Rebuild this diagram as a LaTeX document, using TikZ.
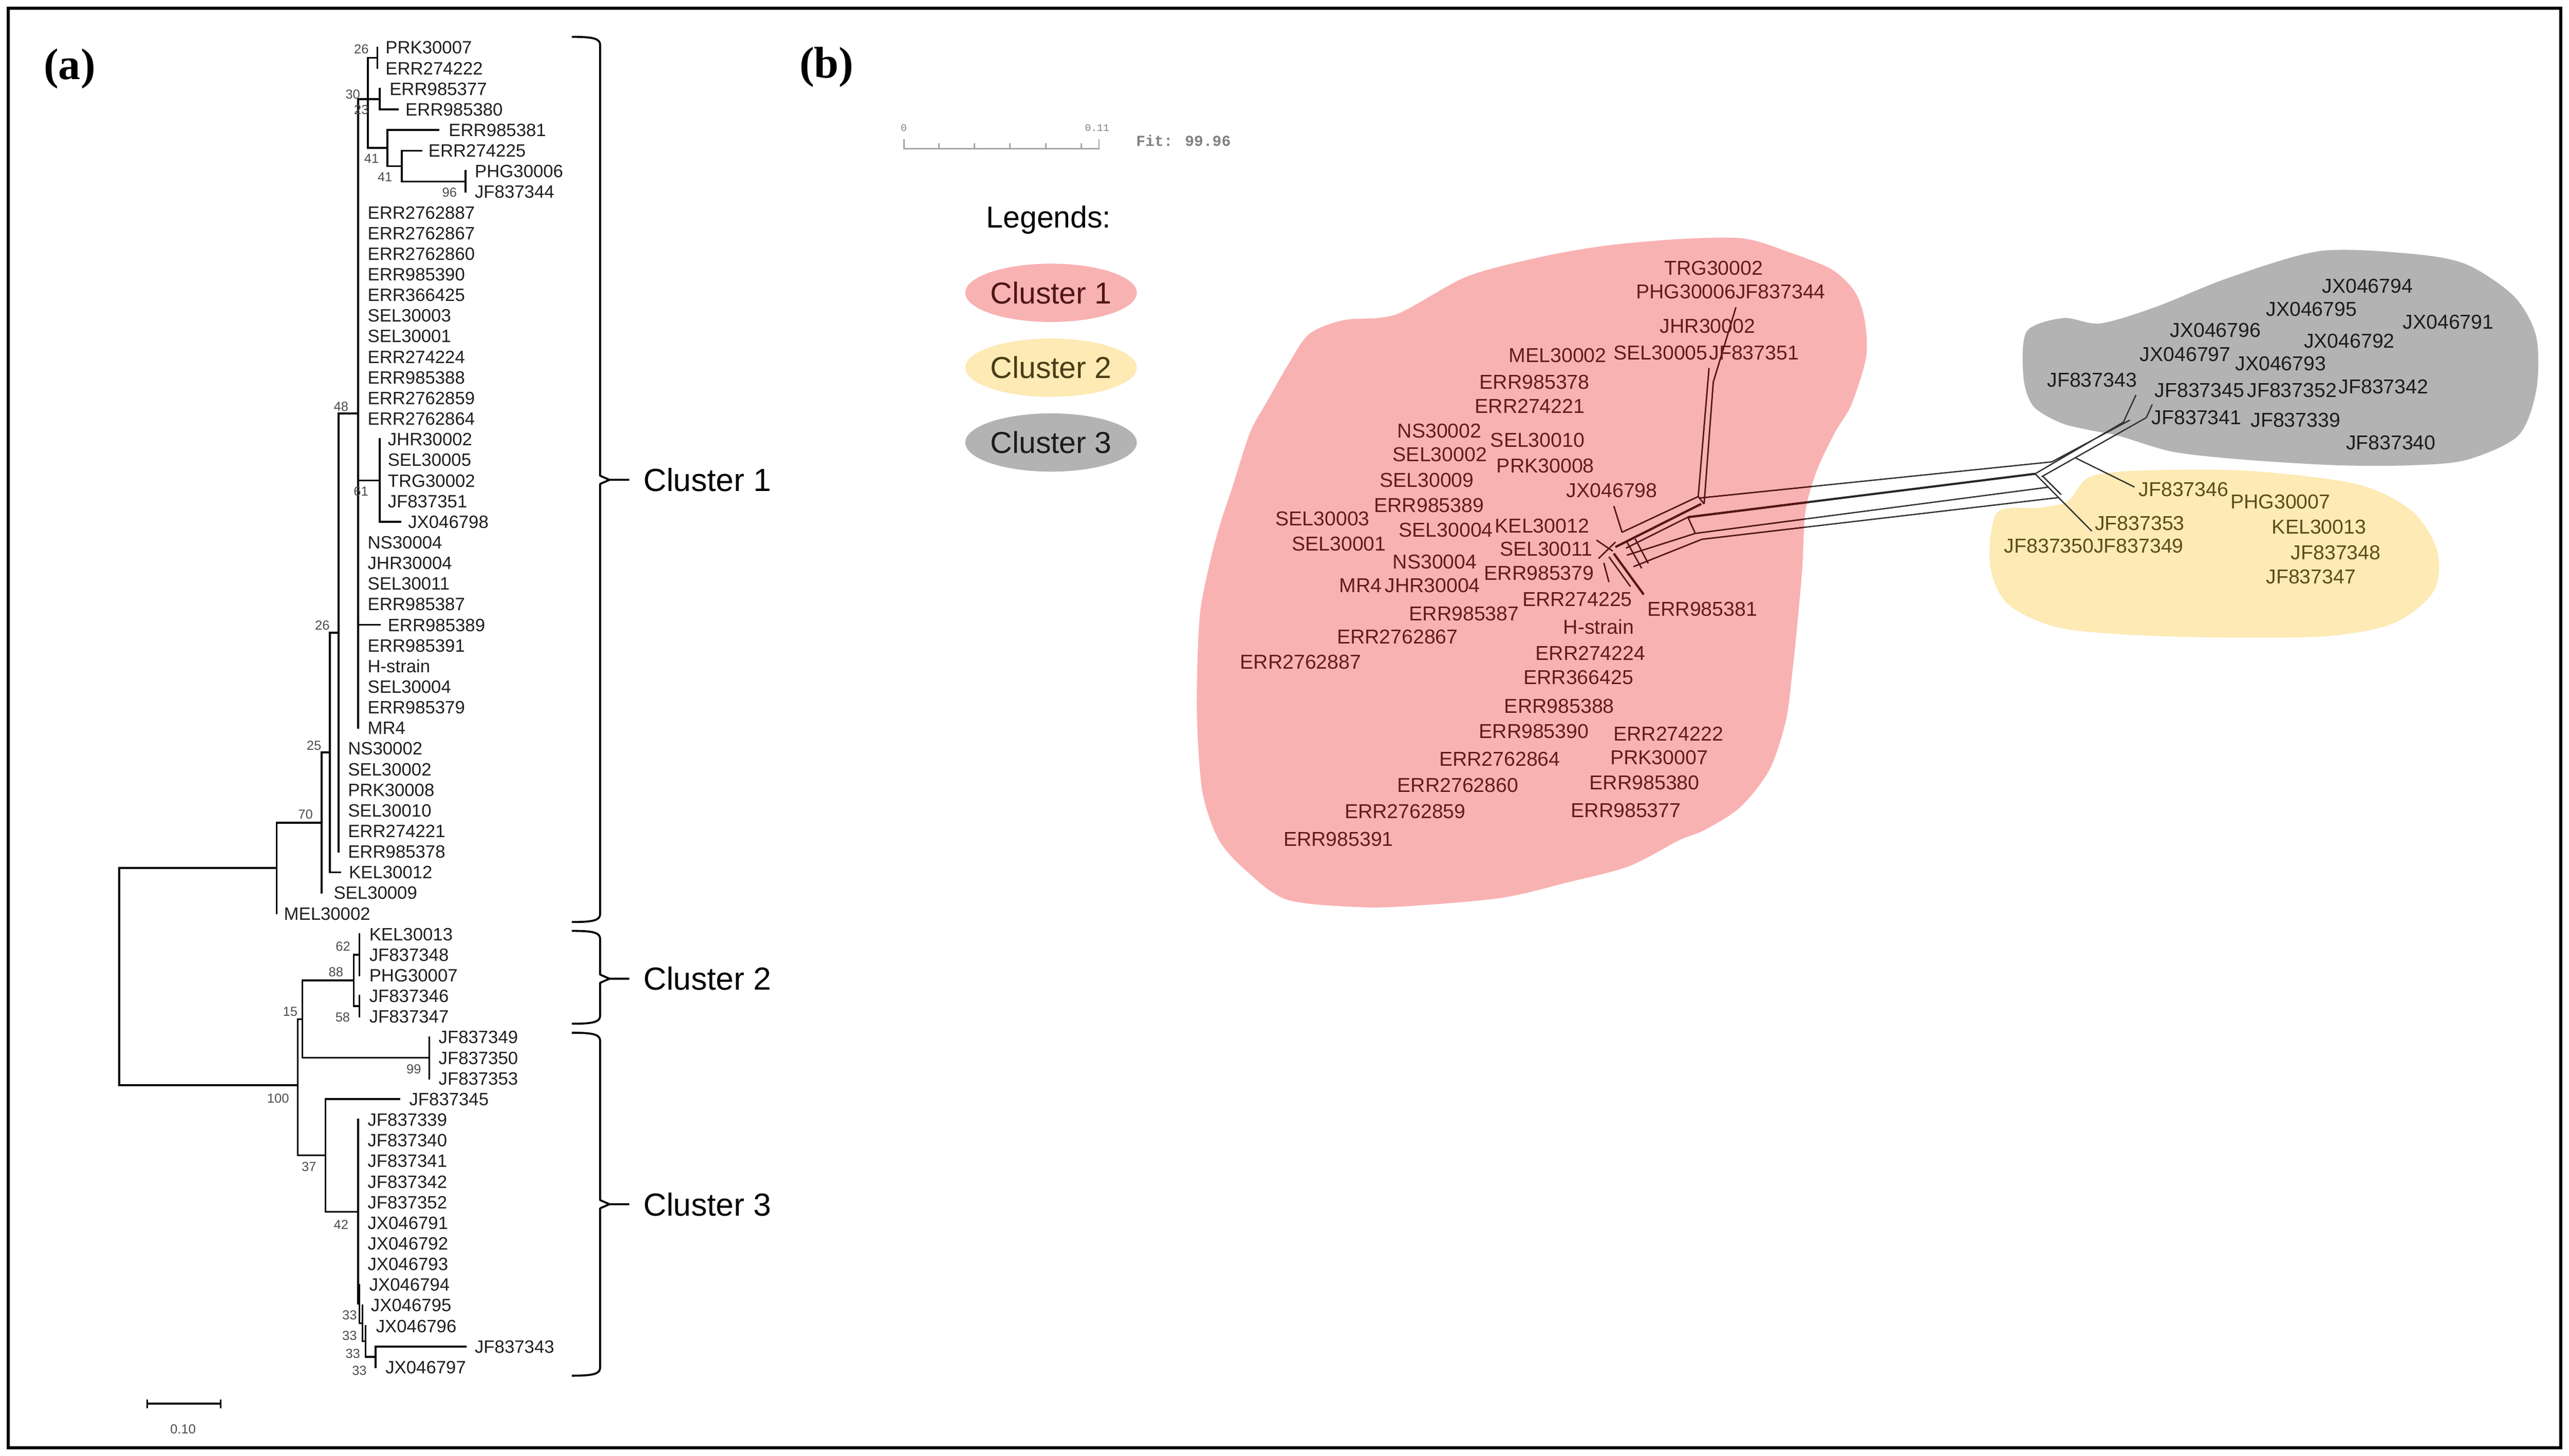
\documentclass[tikz,border=0pt]{standalone}
\usepackage{fontspec}
\setmainfont{Liberation Sans}
\newfontfamily\panelfont{Liberation Serif}
\newfontfamily\fitfont{Liberation Mono}
\usetikzlibrary{shapes.geometric}

\definecolor{clonered}{RGB}{249,178,178}
\definecolor{cloneyel}{RGB}{253,234,180}
\definecolor{clonegry}{RGB}{179,179,179}
\definecolor{txtred}{RGB}{98,28,28}
\definecolor{txtyel}{RGB}{92,76,28}
\definecolor{txtgry}{RGB}{28,28,28}
\definecolor{netred}{RGB}{88,22,22}

\newcommand{\redblob}{plot[smooth cycle, tension=0.5] coordinates {(731,400) (733,370) (740,337) (746,316) (752,298) (763,264) (774,244) (786,223) (799,204) (820,195.5) (852,192) (895,169) (940,157) (980,150) (1025,146) (1064,145.6) (1092,154) (1118,164.5) (1132,178) (1138,195) (1139,218) (1130,247) (1120,264) (1109,287) (1102,312) (1100,347) (1097,381) (1094,410) (1090,440) (1080,470) (1062,493) (1040,507) (1025,513) (994,529) (956,539) (918,548) (871,552.5) (833,554) (786,549.5) (761,532) (744,513) (734,484) (730.6,440)}}
\newcommand{\grayblob}{plot[smooth cycle, tension=0.5] coordinates {(1237,202.4) (1259.4,194.2) (1281.7,197.5) (1315.3,187.6) (1360.1,169.7) (1416,153.3) (1472,155) (1505.5,161.5) (1534.6,181.1) (1548,205.6) (1548,238.3) (1536.9,266.1) (1505.5,280.8) (1472,284.1) (1427.2,284.1) (1371.3,280.8) (1326.5,275.9) (1293.8,266.3) (1275.8,262.7) (1257.8,258.2) (1241,248) (1235,230.2)}}
\newcommand{\yellowblob}{plot[smooth cycle, tension=0.5] coordinates {(1274.9,291.5) (1304,287.4) (1371,287.4) (1438,295.5) (1472,311.9) (1487.6,336.4) (1485.4,361) (1460.8,380.6) (1416,388.7) (1326.5,388.7) (1259.4,383.8) (1225.8,369.1) (1214.6,345) (1219,313) (1245,310) (1262,306)}}
\newcommand{\netthin}{(985,309) -- (990,325)
 (974.4,329.8) -- (984.3,336.5) (975.7,341) -- (986,331)
 (978.9,343.7) -- (982,355.4) (982,340) -- (995.1,358.1)
 (990,325) -- (1036.5,303.2) (992.4,334.7) -- (1030.2,315.8)
 (993,339) -- (1034.7,325.7) (997,346) -- (1038.7,329.3)
 (993,331) -- (1002,347) (998,329) -- (1006,344)
 (1030.2,315.8) -- (1034.7,325.7) (1036.5,303.2) -- (1040.1,307.7)
 (1036.5,303.2) -- (1043.1,224.7) (1040.1,307.7) -- (1045.7,233.3) -- (1059.5,187.7)
 (1037.4,304.1) -- (1252.4,282) (1034.7,325.7) -- (1250,297.5) (1038.7,329.3) -- (1256.6,303.8)
 (1242.1,289.3) -- (1276.7,324.3) (1246.5,290.5) -- (1258,302)
 (1242.1,289.3) -- (1296,257.8) (1246.1,291.1) -- (1310,255) (1252.4,282) -- (1300,256.5)
 (1266.8,279.6) -- (1302.8,297.4) (1296,257.8) -- (1303.7,241.1) (1310,255) -- (1313.6,247)}
\newcommand{\netthick}{(985,338) -- (1003.2,363) (986,334) -- (1038.3,307.7) (1030.2,315.8) -- (1242.1,289.3)}
\newcommand{\clbrace}[3]{%
  \draw[brace] (349,#1) .. controls (362,#1) and (366.3,#1+1) .. (366.3,#1+5) -- (366.3,#2-2.5) -- (372,#2) -- (384,#2);
  \draw[brace] (372,#2) -- (366.3,#2+2.5) -- (366.3,#3-5) .. controls (366.3,#3-1) and (362,#3) .. (349,#3);}

\begin{document}
\begin{tikzpicture}[x=1pt, y=-1pt,
  branch/.style={line width=1.1pt, line cap=rect},
  brace/.style={line width=1.2pt, line join=round},
  leaf/.style={anchor=west, inner sep=0pt, text height=7.8pt, text depth=0pt, font=\fontsize{10.9}{12}\selectfont, text=black!88},
  boot/.style={anchor=east, inner sep=0pt, text height=5.8pt, text depth=0pt, font=\fontsize{8}{9}\selectfont, text=black!70},
  taxon/.style={anchor=west, inner sep=0pt, text height=8.8pt, text depth=0pt, font=\fontsize{12.3}{14}\selectfont},
  redtaxon/.style={taxon, text=txtred},
  yeltaxon/.style={taxon, text=txtyel},
  grytaxon/.style={taxon, text=txtgry},
  clusterlab/.style={anchor=west, inner sep=0pt, text height=14pt, text depth=0pt, font=\fontsize{19.5}{22}\selectfont},
  legend/.style={ellipse, minimum width=104pt, minimum height=35.6pt, inner sep=0pt, text height=13.2pt, text depth=0pt, font=\fontsize{18.5}{20}\selectfont},
  net/.style={line width=0.8pt}]
\useasboundingbox (0,0) rectangle (1568,889);
\draw[line width=2pt] (5,5) rectangle (1563,884);

\node[inner sep=0pt, font=\panelfont\bfseries\fontsize{27}{30}\selectfont] (pa) at (42.5,42) {(a)};
\node[inner sep=0pt, font=\panelfont\bfseries\fontsize{27}{30}\selectfont] (pb) at (504.5,41) {(b)};

\draw[branch] (224.6,35.3) -- (230.3,35.3) (230.3,29) -- (230.3,41.6);
\draw[branch] (224.6,60.5) -- (231.8,60.5) (231.8,54.2) -- (231.8,66.8) -- (242.7,66.8);
\draw[branch] (224.6,90.3) -- (236.5,90.3) (267.5,79.4) -- (236.5,79.4) -- (236.5,101.4) -- (245.2,101.4);
\draw[branch] (257.2,92) -- (245.2,92) -- (245.2,110.8) -- (284.1,110.8);
\draw[branch] (284.1,104.5) -- (284.1,117.1);
\draw[branch] (218.6,60.5) -- (224.6,60.5) (224.6,35.3) -- (224.6,90.3);
\draw[branch] (218.6,60.5) -- (218.6,444.5);
\draw[branch] (218.6,293.4) -- (231.8,293.4) (231.8,268.2) -- (231.8,318.6) -- (244.4,318.6);
\draw[branch] (218.6,381.5) -- (231.8,381.5);
\draw[branch] (218.6,252.5) -- (206.6,252.5) -- (206.6,520);
\draw[branch] (206.6,386.3) -- (201.4,386.3) -- (201.4,532.6) -- (207.6,532.6);
\draw[branch] (201.4,459.4) -- (196.3,459.4) -- (196.3,545.2);
\draw[branch] (196.3,502.3) -- (168.8,502.3) -- (168.8,557.8);
\draw[branch] (168.8,530) -- (72.7,530) -- (72.7,662.7) -- (181.8,662.7);
\draw[branch] (215.9,583) -- (219.4,583) (219.4,570.4) -- (219.4,595.6);
\draw[branch] (215.9,614.4) -- (219.4,614.4) (219.4,608.1) -- (219.4,620.7);
\draw[branch] (184.5,598.7) -- (215.9,598.7) (215.9,583) -- (215.9,614.4);
\draw[branch] (184.5,645.9) -- (262,645.9) (262,633.3) -- (262,658.5);
\draw[branch] (181.8,622.3) -- (184.5,622.3) (184.5,598.7) -- (184.5,645.9);
\draw[branch] (181.8,622.3) -- (181.8,705.5) -- (198.7,705.5);
\draw[branch] (243.8,671.1) -- (198.7,671.1) -- (198.7,739.9) -- (218.6,739.9);
\draw[branch] (218.6,683.7) -- (218.6,796) -- (219.4,796);
\draw[branch] (219.4,784.4) -- (219.4,808) -- (221.3,808);
\draw[branch] (221.3,797) -- (221.3,819) -- (223.1,819);
\draw[branch] (223.1,809.6) -- (223.1,828.5) -- (229.3,828.5);
\draw[branch] (229.3,834.8) -- (229.3,822.2) -- (284.1,822.2);

\node[leaf] (l1) at (235.1,29.0) {PRK30007};
\node[leaf] (l2) at (235.1,41.59) {ERR274222};
\node[leaf] (l3) at (237.6,54.18) {ERR985377};
\node[leaf] (l4) at (247.3,66.77) {ERR985380};
\node[leaf] (l5) at (273.7,79.36) {ERR985381};
\node[leaf] (l6) at (261.3,91.95) {ERR274225};
\node[leaf] (l7) at (289.6,104.54) {PHG30006};
\node[leaf] (l8) at (289.6,117.13) {JF837344};
\node[leaf] (l9) at (224.2,129.72) {ERR2762887};
\node[leaf] (l10) at (224.2,142.31) {ERR2762867};
\node[leaf] (l11) at (224.2,154.9) {ERR2762860};
\node[leaf] (l12) at (224.2,167.49) {ERR985390};
\node[leaf] (l13) at (224.2,180.08) {ERR366425};
\node[leaf] (l14) at (224.2,192.67) {SEL30003};
\node[leaf] (l15) at (224.2,205.26) {SEL30001};
\node[leaf] (l16) at (224.2,217.85) {ERR274224};
\node[leaf] (l17) at (224.2,230.44) {ERR985388};
\node[leaf] (l18) at (224.2,243.03) {ERR2762859};
\node[leaf] (l19) at (224.2,255.62) {ERR2762864};
\node[leaf] (l20) at (236.5,268.21) {JHR30002};
\node[leaf] (l21) at (236.5,280.8) {SEL30005};
\node[leaf] (l22) at (236.5,293.39) {TRG30002};
\node[leaf] (l23) at (236.5,305.98) {JF837351};
\node[leaf] (l24) at (248.9,318.57) {JX046798};
\node[leaf] (l25) at (224.2,331.16) {NS30004};
\node[leaf] (l26) at (224.2,343.75) {JHR30004};
\node[leaf] (l27) at (224.2,356.34) {SEL30011};
\node[leaf] (l28) at (224.2,368.93) {ERR985387};
\node[leaf] (l29) at (236.5,381.52) {ERR985389};
\node[leaf] (l30) at (224.2,394.11) {ERR985391};
\node[leaf] (l31) at (224.2,406.7) {H-strain};
\node[leaf] (l32) at (224.2,419.29) {SEL30004};
\node[leaf] (l33) at (224.2,431.88) {ERR985379};
\node[leaf] (l34) at (224.2,444.47) {MR4};
\node[leaf] (l35) at (212.2,457.06) {NS30002};
\node[leaf] (l36) at (212.2,469.65) {SEL30002};
\node[leaf] (l37) at (212.2,482.24) {PRK30008};
\node[leaf] (l38) at (212.2,494.83) {SEL30010};
\node[leaf] (l39) at (212.2,507.42) {ERR274221};
\node[leaf] (l40) at (212.2,520.01) {ERR985378};
\node[leaf] (l41) at (212.8,532.6) {KEL30012};
\node[leaf] (l42) at (203.5,545.19) {SEL30009};
\node[leaf] (l43) at (173.1,557.78) {MEL30002};
\node[leaf] (l44) at (225.2,570.37) {KEL30013};
\node[leaf] (l45) at (225.2,582.96) {JF837348};
\node[leaf] (l46) at (225.2,595.55) {PHG30007};
\node[leaf] (l47) at (225.2,608.14) {JF837346};
\node[leaf] (l48) at (225.2,620.73) {JF837347};
\node[leaf] (l49) at (267.5,633.32) {JF837349};
\node[leaf] (l50) at (267.5,645.91) {JF837350};
\node[leaf] (l51) at (267.5,658.5) {JF837353};
\node[leaf] (l52) at (249.6,671.09) {JF837345};
\node[leaf] (l53) at (224.2,683.68) {JF837339};
\node[leaf] (l54) at (224.2,696.27) {JF837340};
\node[leaf] (l55) at (224.2,708.86) {JF837341};
\node[leaf] (l56) at (224.2,721.45) {JF837342};
\node[leaf] (l57) at (224.2,734.04) {JF837352};
\node[leaf] (l58) at (224.2,746.63) {JX046791};
\node[leaf] (l59) at (224.2,759.22) {JX046792};
\node[leaf] (l60) at (224.2,771.81) {JX046793};
\node[leaf] (l61) at (225.2,784.4) {JX046794};
\node[leaf] (l62) at (226.2,796.99) {JX046795};
\node[leaf] (l63) at (229.3,809.58) {JX046796};
\node[leaf] (l64) at (289.6,822.17) {JF837343};
\node[leaf] (l65) at (235.1,834.76) {JX046797};

\node[boot] (b1) at (225.2,30) {26};
\node[boot] (b2) at (220,57.5) {30};
\node[boot] (b3) at (225.2,67) {23};
\node[boot] (b4) at (231.4,96.8) {41};
\node[boot] (b5) at (239.6,107.8) {41};
\node[boot] (b6) at (279,117.4) {96};
\node[boot] (b7) at (212.8,248) {48};
\node[boot] (b8) at (225,300) {61};
\node[boot] (b9) at (201.4,381.6) {26};
\node[boot] (b10) at (196.3,455) {25};
\node[boot] (b11) at (191.1,497) {70};
\node[boot] (b12) at (214,577.7) {62};
\node[boot] (b13) at (209.7,593.5) {88};
\node[boot] (b14) at (213.8,621) {58};
\node[boot] (b15) at (181.8,617.6) {15};
\node[boot] (b16) at (257.2,652.6) {99};
\node[boot] (b17) at (176.6,670.7) {100};
\node[boot] (b18) at (193.2,712.4) {37};
\node[boot] (b19) at (212.8,747.8) {42};
\node[boot] (b20) at (218,802.8) {33};
\node[boot] (b21) at (218,815.4) {33};
\node[boot] (b22) at (220,826.4) {33};
\node[boot] (b23) at (224,836.7) {33};

\draw[line width=1.1pt] (89.9,857.1) -- (134.7,857.1) (89.9,854.4) -- (89.9,859.8) (134.7,854.4) -- (134.7,859.8);
\node[inner sep=0pt, font=\fontsize{8}{9}\selectfont, text=black!70] (sb) at (111.7,872.8) {0.10};

\clbrace{22.5}{293}{563}
\clbrace{568.4}{597.6}{625.1}
\clbrace{630.6}{735.3}{840}
\node[clusterlab] (c1) at (392.5,293) {Cluster 1};
\node[clusterlab] (c2) at (392.5,597.6) {Cluster 2};
\node[clusterlab] (c3) at (392.5,735.3) {Cluster 3};

\draw[gray!70, line width=0.9pt] (551.9,85) -- (551.9,90.7) -- (670.8,90.7) -- (670.8,85) (573.1,87.5) -- (573.1,90.7) (594.8,87.5) -- (594.8,90.7) (616.5,87.5) -- (616.5,90.7) (638.2,87.5) -- (638.2,90.7) (659.9,87.5) -- (659.9,90.7);
\node[inner sep=0pt, font=\fitfont\fontsize{6.2}{7}\selectfont, text=gray] (s0) at (551.6,78) {0};
\node[inner sep=0pt, font=\fitfont\fontsize{6.2}{7}\selectfont, text=gray] (s1) at (669.6,78) {0.11};
\node[anchor=west, inner sep=0pt, font=\fitfont\bfseries\fontsize{9.3}{10}\selectfont, text=gray] (fit) at (693.3,85.8) {Fit: 99.96};

\node[anchor=base west, inner sep=0pt, font=\fontsize{18.5}{20}\selectfont] (leg) at (601.8,139) {Legends:};
\node[legend, fill=clonered, text=txtred!80!black] (leg1) at (641.5,178.8) {Cluster 1};
\node[legend, fill=cloneyel, text=txtyel!80!black] (leg2) at (641.5,224.5) {Cluster 2};
\node[legend, fill=clonegry, text=txtgry] (leg3) at (641.5,270.2) {Cluster 3};

\fill[clonered] \redblob;
\fill[clonegry] \grayblob;
\fill[cloneyel] \yellowblob;

\draw[net, black!80] \netthin;
\draw[net, line width=1.3pt, black!85] \netthick;
\begin{scope}
\clip \redblob;
\draw[net, netred] \netthin;
\draw[net, line width=1.3pt, netred] \netthick;
\end{scope}

\node[redtaxon] (n1) at (1015.6,163.6) {TRG30002};
\node[redtaxon] (n2) at (998.4,177.9) {PHG30006};
\node[redtaxon] (n3) at (1059.2,177.9) {JF837344};
\node[redtaxon] (n4) at (1013,198.9) {JHR30002};
\node[redtaxon] (n5) at (920.8,216.8) {MEL30002};
\node[redtaxon] (n6) at (984.6,215.3) {SEL30005};
\node[redtaxon] (n7) at (1043,215.3) {JF837351};
\node[redtaxon] (n8) at (902.9,233.3) {ERR985378};
\node[redtaxon] (n9) at (900,247.8) {ERR274221};
\node[redtaxon] (n10) at (852.7,263) {NS30002};
\node[redtaxon] (n11) at (909.5,268.5) {SEL30010};
\node[redtaxon] (n12) at (849.9,277.4) {SEL30002};
\node[redtaxon] (n13) at (913.3,284.3) {PRK30008};
\node[redtaxon] (n14) at (841.9,293.2) {SEL30009};
\node[redtaxon] (n15) at (955.9,299.4) {JX046798};
\node[redtaxon] (n16) at (838.5,308.4) {ERR985389};
\node[redtaxon] (n17) at (778.3,316.7) {SEL30003};
\node[redtaxon] (n18) at (912.3,320.8) {KEL30012};
\node[redtaxon] (n19) at (853.6,323.5) {SEL30004};
\node[redtaxon] (n20) at (788.3,331.8) {SEL30001};
\node[redtaxon] (n21) at (915.2,335.2) {SEL30011};
\node[redtaxon] (n22) at (849.9,342.8) {NS30004};
\node[redtaxon] (n23) at (905.7,349.7) {ERR985379};
\node[redtaxon] (n24) at (817.3,357.2) {MR4};
\node[redtaxon] (n25) at (845.1,357.2) {JHR30004};
\node[redtaxon] (n26) at (929,365.9) {ERR274225};
\node[redtaxon] (n27) at (1005.3,371.9) {ERR985381};
\node[redtaxon] (n28) at (859.9,374.7) {ERR985387};
\node[redtaxon] (n29) at (954,382.8) {H-strain};
\node[redtaxon] (n30) at (815.8,388.6) {ERR2762867};
\node[redtaxon] (n31) at (937,398.8) {ERR274224};
\node[redtaxon] (n32) at (756.7,404) {ERR2762887};
\node[redtaxon] (n33) at (929.7,413.5) {ERR366425};
\node[redtaxon] (n34) at (918,431) {ERR985388};
\node[redtaxon] (n35) at (902.5,446.4) {ERR985390};
\node[redtaxon] (n36) at (984.6,447.9) {ERR274222};
\node[redtaxon] (n37) at (878.2,463.2) {ERR2762864};
\node[redtaxon] (n38) at (982.7,462.5) {PRK30007};
\node[redtaxon] (n39) at (852.7,479.3) {ERR2762860};
\node[redtaxon] (n40) at (970,477.8) {ERR985380};
\node[redtaxon] (n41) at (820.5,495.4) {ERR2762859};
\node[redtaxon] (n42) at (958.7,494.7) {ERR985377};
\node[redtaxon] (n43) at (783.2,512.2) {ERR985391};

\node[grytaxon] (g1) at (1417.1,174.6) {JX046794};
\node[grytaxon] (g2) at (1382.9,188.5) {JX046795};
\node[grytaxon] (g3) at (1466.4,196.6) {JX046791};
\node[grytaxon] (g4) at (1324.3,201.5) {JX046796};
\node[grytaxon] (g5) at (1406,208.1) {JX046792};
\node[grytaxon] (g6) at (1305.9,216.3) {JX046797};
\node[grytaxon] (g7) at (1364.1,222) {JX046793};
\node[grytaxon] (g8) at (1249.3,231.8) {JF837343};
\node[grytaxon] (g9) at (1314.9,238.3) {JF837345};
\node[grytaxon] (g10) at (1371.3,238.3) {JF837352};
\node[grytaxon] (g11) at (1427.2,235.9) {JF837342};
\node[grytaxon] (g12) at (1313.1,254.7) {JF837341};
\node[grytaxon] (g13) at (1373.5,256.3) {JF837339};
\node[grytaxon] (g14) at (1431.7,270.2) {JF837340};

\node[yeltaxon] (y1) at (1305.2,298.8) {JF837346};
\node[yeltaxon] (y2) at (1361.2,306.2) {PHG30007};
\node[yeltaxon] (y3) at (1278.4,319.3) {JF837353};
\node[yeltaxon] (y4) at (1386.5,321.7) {KEL30013};
\node[yeltaxon] (y5) at (1223.1,333.2) {JF837350};
\node[yeltaxon] (y6) at (1277.8,333.2) {JF837349};
\node[yeltaxon] (y7) at (1398.1,337.2) {JF837348};
\node[yeltaxon] (y8) at (1382.9,352) {JF837347};
\end{tikzpicture}
\end{document}
